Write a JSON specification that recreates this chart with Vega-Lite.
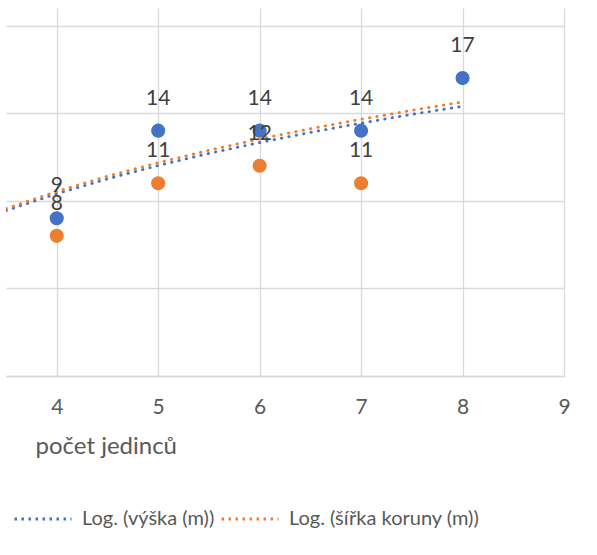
{
  "$schema": "https://vega.github.io/schema/vega-lite/v6.json",
  "width": 558,
  "height": 368,
  "autosize": "none",
  "padding": {"left": 6, "top": 8, "right": 33, "bottom": 179},
  "background": "white",
  "config": {
    "font": "Lato",
    "view": {"stroke": null}
  },
  "datasets": {
    "points": [
      {"x": 4, "series": "výška (m)", "y": 9},
      {"x": 5, "series": "výška (m)", "y": 14},
      {"x": 6, "series": "výška (m)", "y": 14},
      {"x": 7, "series": "výška (m)", "y": 14},
      {"x": 8, "series": "výška (m)", "y": 17},
      {"x": 4, "series": "šířka koruny (m)", "y": 8},
      {"x": 5, "series": "šířka koruny (m)", "y": 11},
      {"x": 6, "series": "šířka koruny (m)", "y": 12},
      {"x": 7, "series": "šířka koruny (m)", "y": 11}
    ],
    "trend": [
      {"x": 3.5, "series": "Log. (výška (m))", "y": 9.44},
      {"x": 4, "series": "Log. (výška (m))", "y": 10.4},
      {"x": 4.5, "series": "Log. (výška (m))", "y": 11.25},
      {"x": 5, "series": "Log. (výška (m))", "y": 12.01},
      {"x": 5.5, "series": "Log. (výška (m))", "y": 12.7},
      {"x": 6, "series": "Log. (výška (m))", "y": 13.32},
      {"x": 6.5, "series": "Log. (výška (m))", "y": 13.9},
      {"x": 7, "series": "Log. (výška (m))", "y": 14.43},
      {"x": 7.5, "series": "Log. (výška (m))", "y": 14.93},
      {"x": 8, "series": "Log. (výška (m))", "y": 15.39},
      {"x": 3.5, "series": "Log. (šířka koruny (m))", "y": 9.55},
      {"x": 4, "series": "Log. (šířka koruny (m))", "y": 10.53},
      {"x": 4.5, "series": "Log. (šířka koruny (m))", "y": 11.4},
      {"x": 5, "series": "Log. (šířka koruny (m))", "y": 12.17},
      {"x": 5.5, "series": "Log. (šířka koruny (m))", "y": 12.88},
      {"x": 6, "series": "Log. (šířka koruny (m))", "y": 13.52},
      {"x": 6.5, "series": "Log. (šířka koruny (m))", "y": 14.11},
      {"x": 7, "series": "Log. (šířka koruny (m))", "y": 14.65},
      {"x": 7.5, "series": "Log. (šířka koruny (m))", "y": 15.16},
      {"x": 8, "series": "Log. (šířka koruny (m))", "y": 15.64}
    ]
  },
  "encoding": {
    "x": {
      "field": "x",
      "type": "quantitative",
      "scale": {"domain": [3.5, 9], "nice": false, "zero": false},
      "axis": {
        "values": [4, 5, 6, 7, 8, 9],
        "grid": true,
        "gridColor": "#d9d9d9",
        "gridWidth": 1.3,
        "domain": true,
        "domainColor": "#d9d9d9",
        "domainWidth": 1.3,
        "ticks": false,
        "tickSize": 0,
        "labelFontSize": 21,
        "labelColor": "#595959",
        "labelBaseline": "middle",
        "labelPadding": 31,
        "labelFlush": false,
        "title": "počet jedinců",
        "titleFontSize": 24,
        "titleFontWeight": "normal",
        "titleColor": "#595959",
        "titleAlign": "left",
        "titleBaseline": "middle",
        "titleAnchor": "start",
        "titleX": 29,
        "titleY": 70
      }
    },
    "y": {
      "field": "y",
      "type": "quantitative",
      "scale": {"domain": [0, 21], "nice": false},
      "axis": {
        "values": [0, 5, 10, 15, 20],
        "grid": true,
        "gridColor": "#d9d9d9",
        "gridWidth": 1.3,
        "domain": false,
        "ticks": false,
        "labels": false,
        "title": null
      }
    }
  },
  "layer": [
    {
      "data": {"name": "points"},
      "mark": {"type": "circle", "size": 200, "opacity": 1},
      "encoding": {
        "color": {
          "field": "series",
          "type": "nominal",
          "scale": {"domain": ["výška (m)", "šířka koruny (m)"], "range": ["#4472C4", "#ED7D31"]},
          "legend": null
        }
      }
    },
    {
      "data": {"name": "trend"},
      "mark": {"type": "line", "strokeDash": [0.5, 7], "strokeCap": "round", "strokeWidth": 2.8, "clip": true},
      "encoding": {
        "color": {
          "field": "series",
          "type": "nominal",
          "scale": {"domain": ["Log. (výška (m))", "Log. (šířka koruny (m))"], "range": ["#4472C4", "#ED7D31"]},
          "legend": {
            "title": null,
            "orient": "none",
            "direction": "horizontal",
            "legendX": 7,
            "legendY": 481,
            "symbolType": "stroke",
            "symbolSize": 3249,
            "symbolStrokeWidth": 2.8,
            "symbolDash": [2.5, 4.5],
            "labelFontSize": 20,
            "labelColor": "#595959",
            "labelOffset": 9,
            "columnPadding": 0,
            "labelLimit": 400
          }
        }
      }
    },
    {
      "data": {"name": "points"},
      "mark": {"type": "text", "dy": -32, "fontSize": 21, "color": "#404040", "baseline": "middle"},
      "encoding": {
        "text": {"field": "y", "type": "quantitative"}
      }
    }
  ],
  "resolve": {"scale": {"color": "independent"}}
}
